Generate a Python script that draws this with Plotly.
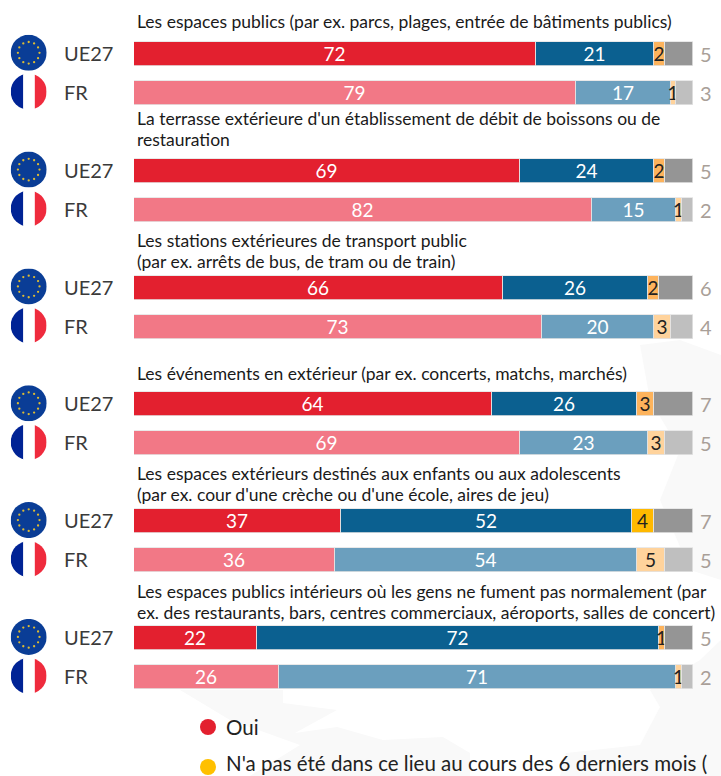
import plotly.graph_objects as go
from urllib.parse import quote
import math

titles = [
    ["Les espaces publics (par ex. parcs, plages, entrée de bâtiments publics)"],
    ["La terrasse extérieure d'un établissement de débit de boissons ou de", "restauration"],
    ["Les stations extérieures de transport public", "(par ex. arrêts de bus, de tram ou de train)"],
    ["Les événements en extérieur (par ex. concerts, matchs, marchés)"],
    ["Les espaces extérieurs destinés aux enfants ou aux adolescents", "(par ex. cour d'une crèche ou d'une école, aires de jeu)"],
    ["Les espaces publics intérieurs où les gens ne fument pas normalement (par", "ex. des restaurants, bars, centres commerciaux, aéroports, salles de concert)"],
]
row_labels = ["UE27", "FR"]
oui_ue = [72, 69, 66, 64, 37, 22]
oui_fr = [79, 82, 73, 69, 36, 26]
non_ue = [21, 24, 26, 26, 52, 72]
non_fr = [17, 15, 20, 23, 54, 71]
abs_ue = [2, 2, 2, 3, 4, 1]
abs_fr = [1, 1, 3, 3, 5, 1]
nsp_ue = [5, 5, 6, 7, 7, 5]
nsp_fr = [3, 2, 4, 5, 5, 2]
legend_labels = ["Oui", "N'a pas été dans ce lieu au cours des 6 derniers mois ("]

W, H = 721, 776
PITCH = 38.94
FIRST = 54
X0, X100 = 134, 693
FONT = "Lato"
title_shift = [33, 52, 47, 31, 48, 47]

rows = []
for g in range(6):
    rows += [3 * g, 3 * g + 1]

def interleave(a, b):
    out = []
    for p, q in zip(a, b):
        out += [p, q]
    return out

series = [
    ("Oui", interleave(oui_ue, oui_fr), "#E3202F", "#F27886", "white"),
    ("Non", interleave(non_ue, non_fr), "#0B6090", "#6B9FBE", "white"),
    ("Abs", interleave(abs_ue, abs_fr), "#FDB35C", "#FFD39C", "#222222"),
    ("NSP", interleave(nsp_ue, nsp_fr), "#959595", "#BFBFBF", "white"),
]
fig = go.Figure()
for name, vals, c1, c2, tc in series:
    colors = [c1 if i % 2 == 0 else c2 for i in range(len(vals))]
    if name == "Abs":
        colors[8] = "#FFB900"
    fig.add_trace(go.Bar(
        y=rows, x=vals, orientation="h", name=name, width=24 / PITCH,
        marker=dict(color=colors, line=dict(color="#E4E4E4", width=0.8)),
        text=None if name == "NSP" else vals, textposition="inside",
        insidetextanchor="middle", textangle=0, constraintext="none",
        textfont=dict(family=FONT, size=19, color=tc), showlegend=False,
        cliponaxis=False,
    ))

nsp = series[3][1]
for r, v in zip(rows, nsp):
    fig.add_annotation(x=0, xref="paper", xshift=706, y=r, yref="y", text=str(v),
                       showarrow=False, xanchor="center", yanchor="middle",
                       font=dict(family=FONT, size=20, color="#A99F98"))

for g, lines in enumerate(titles):
    for k, line in enumerate(lines):
        fig.add_annotation(x=135 / W, xref="paper", y=3 * g, yref="y",
                           yshift=title_shift[g] - 21 * k,
                           text=line, showarrow=False, xanchor="left", yanchor="middle",
                           font=dict(family=FONT, size=17.5, color="#1a1a1a"))

for i, r in enumerate(rows):
    fig.add_annotation(x=62 / W, xref="paper", y=r, yref="y", yshift=1, text=row_labels[i % 2],
                       showarrow=False, xanchor="left", yanchor="middle",
                       font=dict(family=FONT, size=20, color="#3a3a3a"))

stars = ""
for k in range(12):
    a = math.pi * 2 * k / 12
    stars += f'<circle cx="{50 + 30 * math.cos(a):.1f}" cy="{50 + 30 * math.sin(a):.1f}" r="3.2" fill="#DDBB33"/>'
eu = ('<svg xmlns="http://www.w3.org/2000/svg" viewBox="0 0 100 100">'
      '<circle cx="50" cy="50" r="50" fill="#0A3D96"/>' + stars + '</svg>')
fr = ('<svg xmlns="http://www.w3.org/2000/svg" viewBox="0 0 100 100">'
      '<clipPath id="c"><circle cx="50" cy="50" r="50"/></clipPath><g clip-path="url(#c)">'
      '<rect x="0" y="0" width="35" height="100" fill="#002395"/>'
      '<rect x="35" y="0" width="32" height="100" fill="#FFFFFF"/>'
      '<rect x="67" y="0" width="33" height="100" fill="#EF2B3D"/></g></svg>')
for i, r in enumerate(rows):
    svg = eu if i % 2 == 0 else fr
    fig.add_layout_image(source="data:image/svg+xml," + quote(svg), xref="paper", yref="y",
                         x=28.7 / W, y=r - 1.2 / PITCH, sizex=36 / W, sizey=36 / PITCH,
                         xanchor="center", yanchor="middle", layer="above", sizing="contain")

# faint background map silhouette
def poly(points):
    return "M" + " L".join(f"{x / W:.4f},{1 - y / H:.4f}" for x, y in points) + " Z"

map_parts = [
    [(180, 690), (283, 690), (283, 703), (337, 710), (295, 733), (337, 727), (383, 740),
     (443, 737), (470, 753), (470, 776), (250, 776), (300, 745), (230, 720)],
    [(566, 753), (640, 745), (660, 707), (650, 690), (700, 660), (721, 640), (721, 776), (560, 776)],
    [(640, 345), (680, 340), (721, 355), (721, 580), (690, 570), (660, 500), (680, 450), (650, 400)],
]
for pts in map_parts:
    fig.add_shape(type="path", xref="paper", yref="paper", path=poly(pts),
                  fillcolor="#F9F9F9", line_width=0, layer="below")

# legend
leg = [(208, 727, 727, "#E3202F", legend_labels[0]), (208, 767, 763, "#FFC000", legend_labels[1])]
for cx, cy, ty, col, label in leg:
    fig.add_shape(type="circle", xref="paper", yref="paper",
                  x0=(cx - 8) / W, x1=(cx + 8) / W,
                  y0=1 - (cy + 8) / H, y1=1 - (cy - 8) / H,
                  fillcolor=col, line_width=0)
    fig.add_annotation(x=224 / W, xref="paper", y=1 - ty / H, yref="paper", text=label,
                       showarrow=False, xanchor="left", yanchor="middle",
                       font=dict(family=FONT, size=20.5, color="#222222"))

fig.update_layout(
    width=W, height=H, margin=dict(l=0, r=0, t=0, b=0), barmode="stack",
    paper_bgcolor="white", plot_bgcolor="rgba(0,0,0,0)", bargap=0,
    xaxis=dict(domain=[X0 / W, X100 / W], range=[0, 100], visible=False, fixedrange=True),
    yaxis=dict(domain=[0, 1], range=[(H - FIRST) / PITCH, -FIRST / PITCH], visible=False, fixedrange=True),
)
fig.write_html("out.html", config={"displayModeBar": False},
               post_script="document.body.style.margin='0';document.body.style.overflow='hidden';")
